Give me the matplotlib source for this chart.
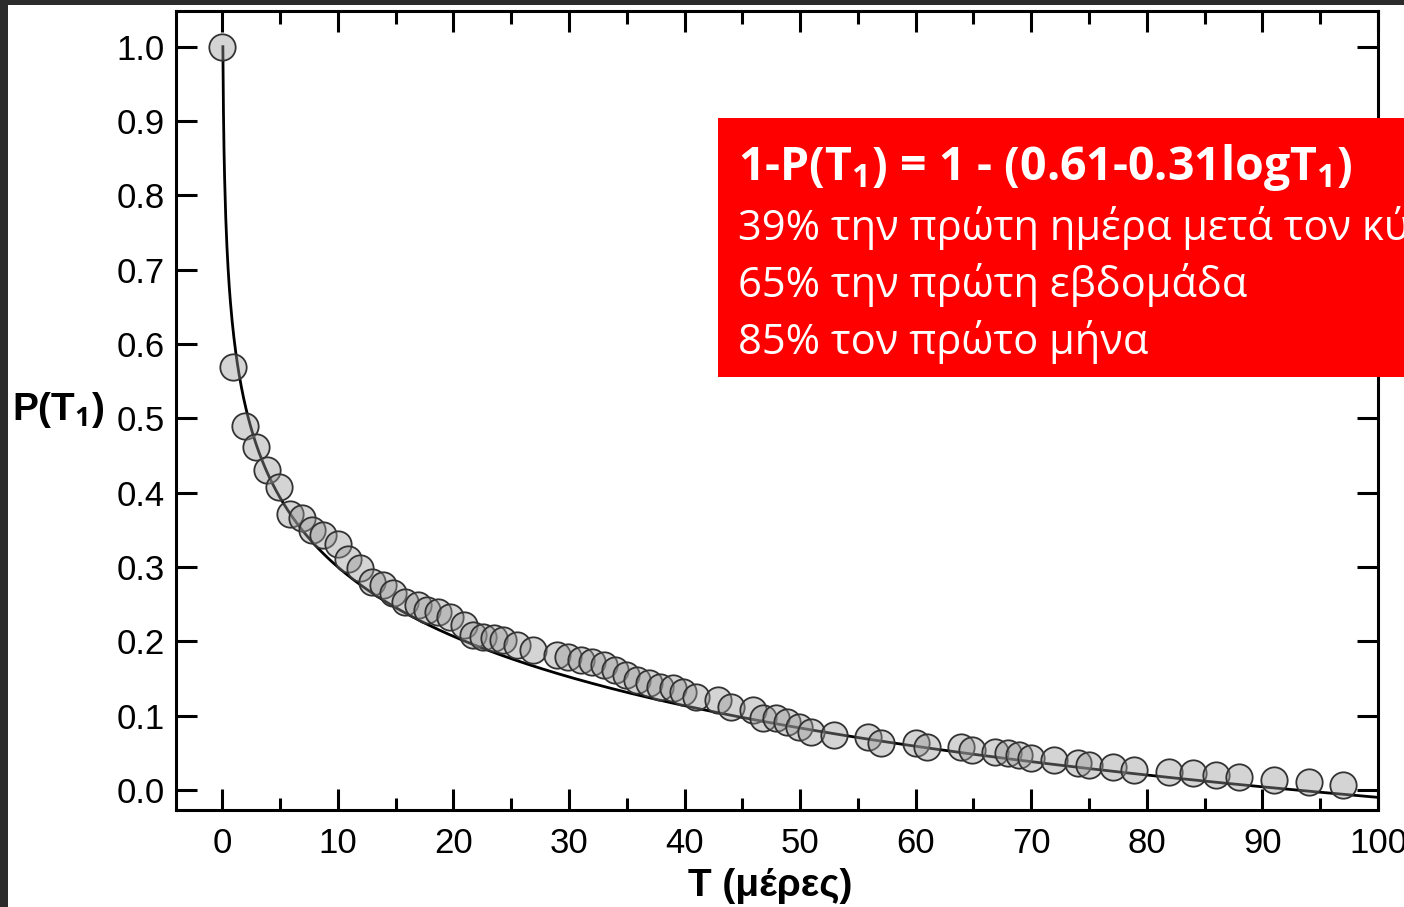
import numpy as np
import matplotlib
matplotlib.use("Agg")
import matplotlib.pyplot as plt
from matplotlib.patches import Rectangle

# aftershock probability data
days = [0, 0.9, 2.0, 2.9, 3.9, 4.9, 5.9, 6.9, 7.8, 8.7, 10.0, 10.9, 11.9, 13.0,
        13.9, 14.8, 15.8, 16.9, 17.7, 18.7, 19.7, 20.9, 21.7, 22.6, 23.5, 24.3,
        25.5, 26.9, 29.0, 29.9, 31.0, 32.0, 33.0, 34.0, 34.9, 35.9, 36.9, 37.9,
        39.0, 39.9, 41.0, 42.9, 44.0, 45.9, 46.8, 47.9, 48.9, 49.9, 50.9, 52.9,
        55.9, 57.0, 60.0, 61.0, 63.9, 64.9, 66.9, 68.0, 68.9, 70.0, 72.0, 74.0,
        75.0, 77.1, 78.9, 81.9, 84.0, 86.0, 88.0, 91.0, 94.0, 97.0]
prob = [1.0, 0.569, 0.489, 0.462, 0.431, 0.408, 0.371, 0.366, 0.350, 0.343,
        0.331, 0.311, 0.299, 0.280, 0.276, 0.265, 0.253, 0.249, 0.242, 0.240,
        0.233, 0.222, 0.209, 0.206, 0.205, 0.202, 0.195, 0.188, 0.182, 0.179,
        0.175, 0.172, 0.168, 0.162, 0.155, 0.148, 0.144, 0.139, 0.137, 0.132,
        0.125, 0.121, 0.112, 0.108, 0.097, 0.097, 0.092, 0.085, 0.078, 0.074,
        0.071, 0.063, 0.063, 0.058, 0.058, 0.054, 0.051, 0.050, 0.047, 0.043,
        0.040, 0.036, 0.034, 0.031, 0.027, 0.024, 0.023, 0.020, 0.017, 0.013,
        0.011, 0.007]

# fit P(T1) = 0.61 - 0.31 log T1
fit_a = 0.61
fit_b = 0.31

x_ticks = [0, 10, 20, 30, 40, 50, 60, 70, 80, 90, 100]
y_ticks = [0.0, 0.1, 0.2, 0.3, 0.4, 0.5, 0.6, 0.7, 0.8, 0.9, 1.0]

box_lines = ["39% την πρώτη ημέρα μετά τον κύριο σεισμό",
             "65% την πρώτη εβδομάδα",
             "85% τον πρώτο μήνα"]

plt.rcParams['mathtext.fontset'] = 'custom'
plt.rcParams['mathtext.bf'] = 'Open Sans:bold'
plt.rcParams['mathtext.rm'] = 'Open Sans'

W, H = 1404, 907
fig = plt.figure(figsize=(W / 100, H / 100), dpi=100, facecolor='#2b2b2b')
# white slide area
fig.patches.append(Rectangle((8 / W, 0), 1, 1 - 5 / H, transform=fig.transFigure,
                             facecolor='white', edgecolor='none', zorder=-10))

ax = fig.add_axes([176 / W, 1 - 810 / H, (1378 - 176) / W, (810 - 11) / H])

t = np.linspace(10 ** ((fit_a - 1) / fit_b), 100, 2000)
ax.plot(t, fit_a - fit_b * np.log10(t), color='black', lw=2.0, zorder=3)
ax.scatter(days, prob, s=360, facecolor=(0.6, 0.6, 0.6, 0.42),
           edgecolor='#333333', linewidth=1.3, zorder=4)

ax.set_xlim(-4, 100)
ax.set_ylim(-0.027, 1.048)
ax.set_xticks(x_ticks)
ax.set_xticks(np.arange(5, 100, 10), minor=True)
ax.set_yticks(y_ticks)
ax.set_yticklabels([f"{v:.1f}" for v in y_ticks])

for lab in ax.get_xticklabels() + ax.get_yticklabels():
    lab.set_fontfamily('Liberation Sans')
    lab.set_fontsize(25)

ax.tick_params(axis='both', which='major', direction='in', length=15, width=2.2,
               top=True, right=True, color='black')
ax.tick_params(axis='x', which='minor', direction='in', length=9, width=2.2,
               top=True, bottom=True)
ax.tick_params(axis='x', which='major', pad=12)
ax.tick_params(axis='y', which='major', pad=8)
for sp in ax.spines.values():
    sp.set_linewidth(2.2)

fig.text(770 / W, 1 - 886 / H, "T (μέρες)", ha='center', va='center',
         fontsize=28, fontweight='bold', family='Liberation Sans')
fig.text(58 / W, 1 - 410 / H, r"P(T$_\mathbf{1}$)", ha='center', va='center',
         fontsize=28, fontweight='bold', family='Liberation Sans')

# red annotation box, running off the right edge
fig.patches.append(Rectangle((718 / W, 1 - 377 / H), 1, (377 - 118) / H,
                             transform=fig.transFigure, facecolor='#ff0000',
                             edgecolor='none', zorder=5))
fig.text(738 / W, 1 - 180 / H, r"1-P(T$_\mathbf{1}$) = 1 - (0.61-0.31logT$_\mathbf{1}$)",
         ha='left', va='baseline', color='white', fontsize=33.5, fontweight='bold',
         family='Open Sans', zorder=6)
for i, line in enumerate(box_lines):
    fig.text(738 / W, 1 - (240 + 57 * i) / H, line, ha='left', va='baseline',
             color='white', fontsize=30, family='Open Sans', zorder=6)

fig.savefig("out.png", dpi=100, facecolor=fig.get_facecolor())
